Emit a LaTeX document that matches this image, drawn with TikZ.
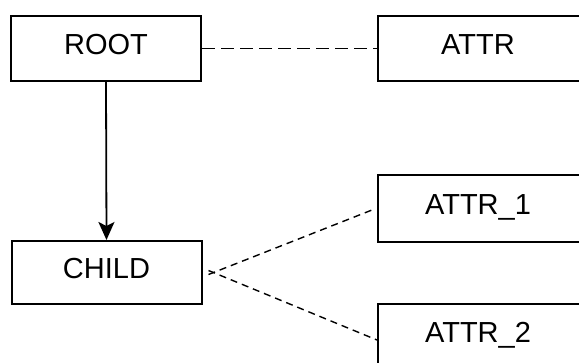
\documentclass[tikz,border=0pt]{standalone}
\usepackage{fontspec}
\setmainfont{Liberation Sans}
\usetikzlibrary{arrows.meta}
\begin{document}
\begin{tikzpicture}[x=1pt,y=-1pt,
  box/.style={draw=black, line width=2pt, rectangle, inner sep=0pt, text depth=8pt,
    font=\fontsize{29}{30}\selectfont, minimum height=65pt},
  lbox/.style={box, minimum width=190pt},
  rbox/.style={box, minimum width=240pt, anchor=west},
  bigdash/.style={line width=1.8pt, dash pattern=on 13pt off 6pt},
  smalldash/.style={line width=1.4pt, dash pattern=on 7pt off 5pt}]
\useasboundingbox[fill=white] (0,0) rectangle (579,362);
\begin{scope}
\clip (0,0) rectangle (579,362);
\node[lbox] (root) at (106,48.5) {ROOT};
\node[lbox, minimum height=63pt] (child) at (106.5,272.5) {CHILD};
\node[rbox] (attr) at (377,48.5) {\makebox[200pt]{ATTR}\hspace*{40pt}};
\node[rbox, minimum height=67pt] (a1) at (377,208.5) {\makebox[200pt]{ATTR\_1}\hspace*{40pt}};
\node[rbox] (a2) at (377,336.5) {\makebox[200pt]{ATTR\_2}\hspace*{40pt}};
\coordinate (fork) at ([xshift=6pt]child.east);
\draw[bigdash] (root.east) -- (attr.west);
\draw[line width=1.8pt, -{Stealth[length=18pt, width=16pt, inset=4pt]}] (root.south) -- (child.north);
\draw[smalldash] ([yshift=-2pt]fork) -- ([xshift=-5pt,yshift=-1.5pt]a1.west);
\draw[smalldash] ([yshift=2pt]fork) -- ([yshift=-3.5pt]a2.west);
\end{scope}
\end{tikzpicture}
\end{document}
